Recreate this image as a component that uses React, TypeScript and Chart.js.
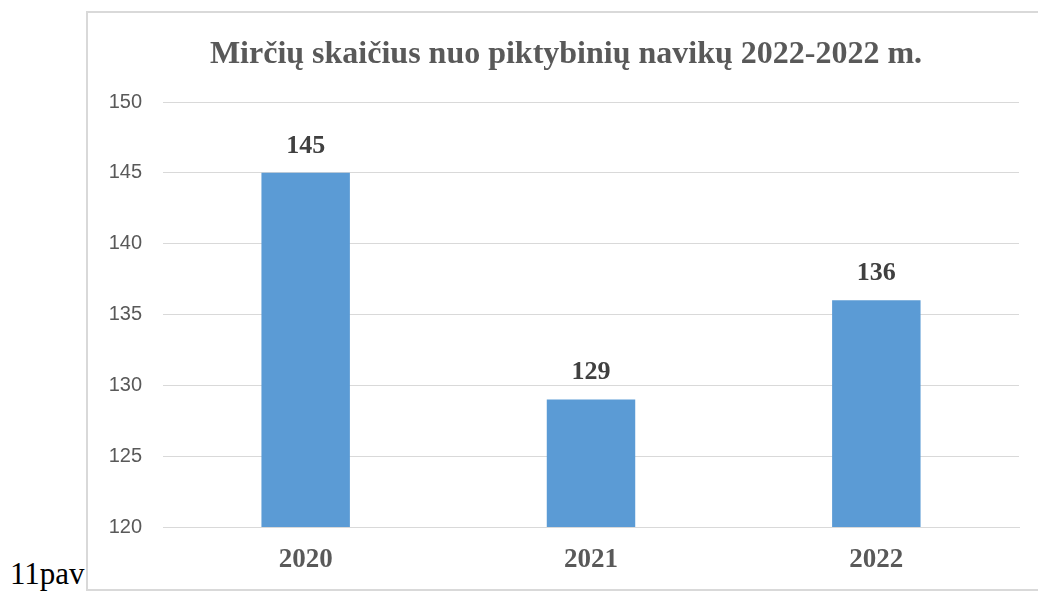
import React, { useEffect, useRef } from "react";
import { Chart, registerables } from "chart.js";

Chart.register(...registerables);

const categories = ["2020", "2021", "2022"];
const deaths = [145, 129, 136];
const yTicks = [120, 125, 130, 135, 140, 145, 150];
const titleText = "Mirčių skaičius nuo piktybinių navikų 2022-2022 m.";
const captionText = "11pav";

const serif = "'Liberation Serif', 'Times New Roman', serif";
const sans = "'Liberation Sans', Arial, sans-serif";

export default function App() {
  const ref = useRef<HTMLCanvasElement | null>(null);

  useEffect(() => {
    if (!ref.current) return;
    const titlePlugin = {
      id: "customTitle",
      afterDraw(chart: any) {
        const ctx = chart.ctx;
        ctx.save();
        ctx.font = `bold 32px ${serif}`;
        ctx.fillStyle = "#595959";
        ctx.textAlign = "center";
        ctx.textBaseline = "middle";
        ctx.fillText(titleText, 478, 42);
        ctx.restore();
      },
    };
    const labelPlugin = {
      id: "valueLabels",
      afterDatasetsDraw(chart: any) {
        const ctx = chart.ctx;
        const meta = chart.getDatasetMeta(0);
        ctx.save();
        ctx.font = `bold 26px ${serif}`;
        ctx.fillStyle = "#404040";
        ctx.textAlign = "center";
        ctx.textBaseline = "middle";
        meta.data.forEach((bar: any, i: number) => {
          ctx.fillText(String(deaths[i]), bar.x, bar.y - 27);
        });
        ctx.restore();
      },
    };
    const chart = new Chart(ref.current, {
      type: "bar",
      data: {
        labels: categories,
        datasets: [
          {
            data: deaths,
            backgroundColor: "#5B9BD5",
            categoryPercentage: 1,
            barPercentage: 0.31,
          },
        ],
      },
      options: {
        animation: false,
        responsive: false,
        maintainAspectRatio: false,
        layout: { padding: { top: 89, right: 19, bottom: 0, left: 0 } },
        plugins: {
          legend: { display: false },
          title: { display: false },
          tooltip: { enabled: false },
        },
        scales: {
          x: {
            grid: { display: false, drawTicks: false },
            border: { display: true, color: "#d9d9d9", width: 1 },
            ticks: {
              color: "#595959",
              font: { family: serif, size: 27, weight: "bold" },
              padding: 17,
            },
            afterFit(scale: any) {
              scale.height = 61;
            },
          },
          y: {
            min: 120,
            max: 150,
            afterBuildTicks(scale: any) {
              scale.ticks = yTicks.map((v) => ({ value: v }));
            },
            grid: { color: "#d9d9d9", lineWidth: 1, drawTicks: false },
            border: { display: false },
            ticks: {
              color: "#595959",
              font: { family: sans, size: 20 },
              padding: 21,
            },
            afterFit(scale: any) {
              scale.width = 75;
            },
          },
        },
      },
      plugins: [titlePlugin, labelPlugin],
    });
    return () => chart.destroy();
  }, []);

  return (
    <div
      style={{
        position: "fixed",
        left: 0,
        top: 0,
        width: 1038,
        height: 597,
        overflow: "hidden",
        background: "#ffffff",
      }}
    >
      <div
        style={{
          position: "absolute",
          left: 86,
          top: 11,
          width: 1000,
          height: 576,
          border: "2px solid #d9d9d9",
        }}
      />
      <canvas
        ref={ref}
        width={950}
        height={575}
        style={{ position: "absolute", left: 88, top: 13, width: 950, height: 575 }}
      />
      <div
        style={{
          position: "absolute",
          left: 10,
          top: 555,
          fontFamily: serif,
          fontSize: 31,
          lineHeight: "37px",
          color: "#000",
          whiteSpace: "nowrap",
        }}
      >
        {captionText}
      </div>
    </div>
  );
}
